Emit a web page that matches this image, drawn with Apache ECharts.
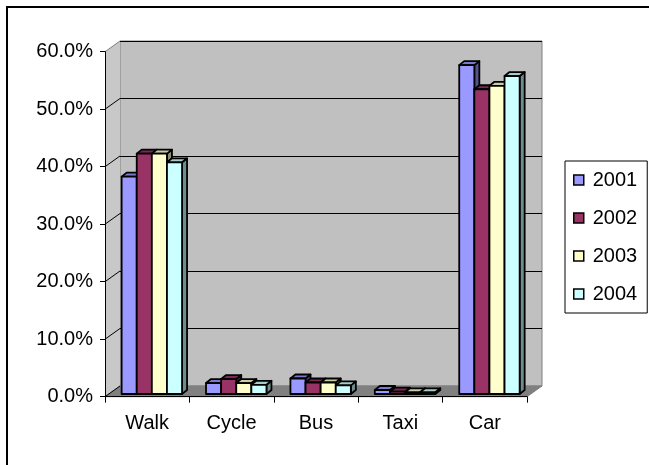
<!DOCTYPE html>
<html>
<head>
<meta charset="utf-8">
<script src="https://cdn.jsdelivr.net/npm/echarts@6/dist/echarts.min.js"></script>
<style>
html,body{margin:0;padding:0;background:#fff;}
#chart{width:649px;height:465px;}
</style>
</head>
<body>
<div id="chart"></div>
<script>
// ---- data ----
const categories = ['Walk', 'Cycle', 'Bus', 'Taxi', 'Car'];
const years = ['2001', '2002', '2003', '2004'];
const v2001 = [37.8, 1.9, 2.7, 0.7, 57.2];
const v2002 = [41.8, 2.6, 2.0, 0.4, 53.0];
const v2003 = [41.8, 1.9, 2.0, 0.3, 53.6];
const v2004 = [40.3, 1.6, 1.5, 0.3, 55.3];
const yTicks = [0, 10, 20, 30, 40, 50, 60];

const seriesValues = [v2001, v2002, v2003, v2004];
const colors = ['#9999FF', '#993366', '#FFFFCC', '#CCFFFF'];
const FONT = '"Liberation Sans", Arial, sans-serif';

// 3D geometry (pixels)
const WALL_DX = 15, WALL_DY = -10.7;   // back wall offset
const BAR_DX = 5, BAR_DY = -4;         // bar depth
const BAR_SHIFT_Y = -2.7;              // bar front plane shift
const BAR_FRAC = 0.179;                // bar width as fraction of band
const GROUP_OFF = 0.055;               // group centre offset (fraction of band)

function shade(hex, f) {
  const n = parseInt(hex.slice(1), 16);
  const r = Math.round(((n >> 16) & 255) * f);
  const g = Math.round(((n >> 8) & 255) * f);
  const b = Math.round((n & 255) * f);
  return 'rgb(' + r + ',' + g + ',' + b + ')';
}

const chart = echarts.init(document.getElementById('chart'), null, {renderer: 'canvas'});

const FRONT = {left: 105, right: 122, top: 51.7, bottom: 68.3};
const BACK = {
  left: FRONT.left + WALL_DX, right: FRONT.right - WALL_DX,
  top: FRONT.top + WALL_DY, bottom: FRONT.bottom - WALL_DY
};

const barSeries = years.map(function (yr, i) {
  return {
    name: yr,
    type: 'custom',
    xAxisIndex: 0, yAxisIndex: 0,
    z: 3 + i,
    itemStyle: {color: colors[i], borderColor: '#000', borderWidth: 1.5},
    data: seriesValues[i].map(function (v, k) { return [k, v]; }),
    renderItem: function (params, api) {
      const cat = api.value(0), val = api.value(1);
      const c = api.coord([cat, val]);
      const b = api.coord([cat, 0]);
      const band = api.size([1, 0])[0];
      const w = band * BAR_FRAC;
      const x0 = c[0] + band * GROUP_OFF - 2 * w + i * w;
      const yT = c[1] + BAR_SHIFT_Y;
      const yB = b[1] + BAR_SHIFT_Y;
      const st = {stroke: '#000', lineWidth: 1.8, lineJoin: 'round'};
      return {
        type: 'group',
        children: [
          {type: 'polygon', shape: {points: [[x0 + w, yT], [x0 + w + BAR_DX, yT + BAR_DY], [x0 + w + BAR_DX, yB + BAR_DY], [x0 + w, yB]]},
            style: Object.assign({fill: shade(colors[i], 0.55)}, st)},
          {type: 'polygon', shape: {points: [[x0, yT], [x0 + w, yT], [x0 + w + BAR_DX, yT + BAR_DY], [x0 + BAR_DX, yT + BAR_DY]]},
            style: Object.assign({fill: shade(colors[i], 0.8)}, st)},
          {type: 'rect', shape: {x: x0, y: yT, width: w, height: yB - yT},
            style: Object.assign({fill: colors[i]}, st)}
        ]
      };
    }
  };
});

const wallSeries = {
  type: 'custom',
  xAxisIndex: 0, yAxisIndex: 0,
  z: 1,
  silent: true,
  clip: false,
  data: [[0, 0]],
  renderItem: function (params, api) {
    const cs = params.coordSys;
    const x = cs.x, y = cs.y, w = cs.width, h = cs.height;
    const children = [
      {type: 'polygon', shape: {points: [[x, y], [x + WALL_DX, y + WALL_DY], [x + WALL_DX, y + h + WALL_DY], [x, y + h]]},
        style: {fill: '#C8C8C8', stroke: null}},
      {type: 'polygon', shape: {points: [[x, y + h], [x + w, y + h], [x + w + WALL_DX, y + h + WALL_DY], [x + WALL_DX, y + h + WALL_DY]]},
        style: {fill: '#808080', stroke: '#808080', lineWidth: 1}}
    ];
    yTicks.forEach(function (t) {
      const py = api.coord([0, t])[1];
      const top = t === yTicks[yTicks.length - 1];
      children.push({type: 'line', shape: {x1: x, y1: py, x2: x + WALL_DX, y2: py + WALL_DY},
        style: {stroke: top ? '#808080' : '#000', lineWidth: 1}});
    });
    return {type: 'group', children: children};
  }
};

const option = {
  backgroundColor: '#fff',
  animation: false,
  textStyle: {fontFamily: FONT},
  graphic: [{
    type: 'rect', z: 100, silent: true,
    shape: {x: 7, y: 7, width: 700, height: 500},
    style: {fill: null, stroke: '#000', lineWidth: 2}
  }],
  legend: {
    data: years,
    orient: 'vertical',
    left: 565, top: 161,
    padding: [9, 10, 9, 8],
    itemWidth: 10, itemHeight: 10,
    itemGap: 18,
    icon: 'rect',
    borderColor: '#000', borderWidth: 1,
    backgroundColor: '#fff',
    itemStyle: {borderColor: '#000', borderWidth: 1.5},
    textStyle: {fontSize: 20, fontFamily: FONT, color: '#000', padding: [0, 0, 0, 4]}
  },
  grid: [
    {left: FRONT.left, right: FRONT.right, top: FRONT.top, bottom: FRONT.bottom, containLabel: false},
    {left: BACK.left, right: BACK.right, top: BACK.top, bottom: BACK.bottom, show: true,
      backgroundColor: '#C0C0C0', borderColor: '#808080', borderWidth: 1}
  ],
  xAxis: [
    {type: 'category', gridIndex: 0, data: categories, z: 10,
      axisLine: {lineStyle: {color: '#000', width: 1}},
      axisTick: {show: true, length: 6, lineStyle: {color: '#000'}},
      axisLabel: {color: '#000', fontSize: 20, fontFamily: FONT, margin: 17},
      splitLine: {show: false}},
    {type: 'category', gridIndex: 1, data: categories, show: false}
  ],
  yAxis: [
    {type: 'value', gridIndex: 0, min: 0, max: 60, interval: 10, z: 10,
      axisLine: {show: true, lineStyle: {color: '#000', width: 1}},
      axisTick: {show: true, length: 5, lineStyle: {color: '#000'}},
      axisLabel: {color: '#000', fontSize: 20, fontFamily: FONT, margin: 12,
        formatter: function (v) { return v.toFixed(1) + '%'; }},
      splitLine: {show: false}},
    {type: 'value', gridIndex: 1, min: 0, max: 60, interval: 10,
      axisLine: {show: false}, axisTick: {show: false}, axisLabel: {show: false},
      splitLine: {show: true, lineStyle: {color: '#000', width: 1}}}
  ],
  series: [wallSeries].concat(barSeries)
};

chart.setOption(option);
</script>
</body>
</html>
